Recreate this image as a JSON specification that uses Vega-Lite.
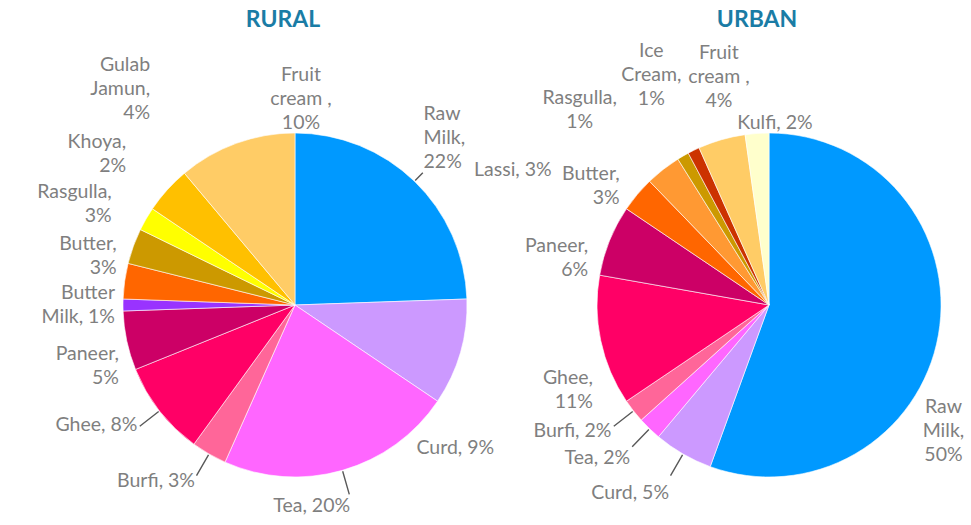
{
  "$schema": "https://vega.github.io/schema/vega-lite/v6.json",
  "autosize": "none",
  "width": 971,
  "height": 440,
  "padding": {"left": 0, "right": 0, "top": 85, "bottom": 0},
  "background": "white",
  "config": {"view": {"stroke": null}, "text": {"font": "Lato", "fontSize": 19.5, "color": "#7F7F7F", "lineBreak": "\n", "lineHeight": 24}},
  "data": {"values": [
    {"region": "RURAL", "i": 1, "name": "Raw Milk", "v": 22, "label": "Raw\nMilk,\n22%"},
    {"region": "RURAL", "i": 2, "name": "Curd", "v": 9, "label": "Curd, 9%"},
    {"region": "RURAL", "i": 3, "name": "Tea", "v": 20, "label": "Tea, 20%"},
    {"region": "RURAL", "i": 4, "name": "Burfi", "v": 3, "label": "Burfi, 3%"},
    {"region": "RURAL", "i": 5, "name": "Ghee", "v": 8, "label": "Ghee, 8%"},
    {"region": "RURAL", "i": 6, "name": "Paneer", "v": 5, "label": "Paneer,\n5%"},
    {"region": "RURAL", "i": 7, "name": "Butter Milk", "v": 1, "label": "Butter\nMilk, 1%"},
    {"region": "RURAL", "i": 8, "name": "Butter", "v": 3, "label": "Butter,\n3%"},
    {"region": "RURAL", "i": 9, "name": "Rasgulla", "v": 3, "label": "Rasgulla,\n3%"},
    {"region": "RURAL", "i": 10, "name": "Khoya", "v": 2, "label": "Khoya,\n2%"},
    {"region": "RURAL", "i": 11, "name": "Gulab Jamun", "v": 4, "label": "Gulab\nJamun,\n4%"},
    {"region": "RURAL", "i": 12, "name": "Fruit cream", "v": 10, "label": "Fruit\ncream ,\n10%"},
    {"region": "URBAN", "i": 1, "name": "Raw Milk", "v": 50, "label": "Raw\nMilk,\n50%"},
    {"region": "URBAN", "i": 2, "name": "Curd", "v": 5, "label": "Curd, 5%"},
    {"region": "URBAN", "i": 3, "name": "Tea", "v": 2, "label": "Tea, 2%"},
    {"region": "URBAN", "i": 4, "name": "Burfi", "v": 2, "label": "Burfi, 2%"},
    {"region": "URBAN", "i": 5, "name": "Ghee", "v": 11, "label": "Ghee,\n11%"},
    {"region": "URBAN", "i": 6, "name": "Paneer", "v": 6, "label": "Paneer,\n6%"},
    {"region": "URBAN", "i": 7, "name": "Butter", "v": 3, "label": "Butter,\n3%"},
    {"region": "URBAN", "i": 8, "name": "Lassi", "v": 3, "label": "Lassi, 3%"},
    {"region": "URBAN", "i": 9, "name": "Rasgulla", "v": 1, "label": "Rasgulla,\n1%"},
    {"region": "URBAN", "i": 10, "name": "Ice Cream", "v": 1, "label": "Ice\nCream,\n1%"},
    {"region": "URBAN", "i": 11, "name": "Fruit cream", "v": 4, "label": "Fruit\ncream ,\n4%"},
    {"region": "URBAN", "i": 12, "name": "Kulfi", "v": 2, "label": "Kulfi, 2%"}
  ]},
  "transform": [
    {"stack": "v", "groupby": ["region"], "sort": [{"field": "i", "order": "ascending"}], "as": ["s0", "s1"]},
    {"fold": ["s0", "s1"], "as": ["edge", "t"]},
    {"aggregate": [
      {"op": "min", "field": "t", "as": "start"},
      {"op": "max", "field": "t", "as": "end"},
      {"op": "mean", "field": "t", "as": "mid"}
    ], "groupby": ["region", "i", "name", "v", "label"]}
  ],
  "encoding": {
    "x": {"field": "region", "type": "nominal", "axis": null, "scale": {"type": "point", "padding": 0.5242, "align": 0.5936}}
  },
  "layer": [
    {
      "mark": {"type": "arc", "radius": 172, "stroke": "white", "strokeWidth": 0.6},
      "encoding": {
        "theta": {"field": "start", "type": "quantitative", "scale": {"domain": [0, 90]}},
        "theta2": {"field": "end"},
        "color": {"field": "name", "type": "nominal", "legend": null,
          "scale": {
            "domain": ["Raw Milk", "Curd", "Tea", "Burfi", "Ghee", "Paneer", "Butter Milk", "Butter", "Rasgulla", "Khoya", "Gulab Jamun", "Fruit cream", "Lassi", "Ice Cream", "Kulfi"],
            "range": ["#0099FF", "#CC99FF", "#FF66FF", "#FF6699", "#FF0066", "#CC0066", "#9933FF", "#FF6600", "#CC9900", "#FFFF00", "#FFC000", "#FFCC66", "#FF9933", "#CC3300", "#FFFFCC"]
          }}
      }
    },
    {
      "transform": [{"filter": "datum.mid < 20"}],
      "mark": {"type": "arc", "radius": 184, "radius2": 173, "fill": null, "filled": false, "stroke": "#595959", "strokeWidth": 1.4},
      "encoding": {
        "theta": {"field": "mid", "type": "quantitative", "scale": {"domain": [0, 90]}},
        "theta2": {"field": "mid"}
      }
    },
    {
      "transform": [{"filter": "datum.mid >= 35 && datum.mid < 61.25"}],
      "mark": {"type": "arc", "radius": 197, "radius2": 173, "fill": null, "filled": false, "stroke": "#595959", "strokeWidth": 1.4},
      "encoding": {
        "theta": {"field": "mid", "type": "quantitative", "scale": {"domain": [0, 90]}},
        "theta2": {"field": "mid"}
      }
    },
    {
      "transform": [{"aggregate": [{"op": "count", "as": "n"}], "groupby": ["region"]}],
      "mark": {"type": "text", "radius": 285, "theta": 0, "dx": -12, "fontSize": 23, "fontWeight": "bold", "color": "#1A7CA5", "baseline": "middle", "align": "center"},
      "encoding": {"text": {"field": "region"}}
    },
    {
      "transform": [{"filter": "datum.mid < 20 && lastindexof(datum.label, '\\n') > indexof(datum.label, '\\n')"}],
      "mark": {"type": "text", "radius": 185, "align": "left", "baseline": "bottom", "dy": -48},
      "encoding": {"theta": {"field": "mid", "type": "quantitative", "scale": {"domain": [0, 90]}}, "text": {"field": "label"}}
    },
    {
      "transform": [{"filter": "datum.mid >= 20 && datum.mid < 35 && indexof(datum.label, '\\n') < 0"}],
      "mark": {"type": "text", "radius": 215, "thetaOffset": 0.45, "align": "center", "baseline": "middle"},
      "encoding": {"theta": {"field": "mid", "type": "quantitative", "scale": {"domain": [0, 90]}}, "text": {"field": "label"}}
    },
    {
      "transform": [{"filter": "datum.mid >= 20 && datum.mid < 35 && lastindexof(datum.label, '\\n') > indexof(datum.label, '\\n')"}],
      "mark": {"type": "text", "radius": 215, "thetaOffset": 0.45, "align": "center", "baseline": "middle", "dy": -24},
      "encoding": {"theta": {"field": "mid", "type": "quantitative", "scale": {"domain": [0, 90]}}, "text": {"field": "label"}}
    },
    {
      "transform": [{"filter": "datum.mid >= 35 && datum.mid < 61.25"}],
      "mark": {"type": "text", "radius": 200, "align": "right", "baseline": "top"},
      "encoding": {
        "theta": {"field": "mid", "type": "quantitative", "scale": {"domain": [0, 90]}},
        "y": {"field": "i", "type": "quantitative", "axis": null, "scale": {"domain": [2, 5], "range": [226, 208], "zero": false, "nice": false}},
        "text": {"field": "label"}
      }
    },
    {
      "transform": [{"filter": "datum.mid >= 61.25 && datum.mid < 71.25"}],
      "mark": {"type": "text", "radius": 180, "align": "right", "baseline": "middle", "dy": -12},
      "encoding": {
        "theta": {"field": "mid", "type": "quantitative", "scale": {"domain": [0, 90]}},
        "y": {"field": "i", "type": "quantitative", "axis": null, "scale": {"domain": [5, 8], "range": [268, 196], "zero": false, "nice": false}},
        "text": {"field": "label"}
      }
    },
    {
      "transform": [{"filter": "datum.mid >= 71.25 && datum.mid < 79 && indexof(datum.label, '\\n') >= 0 && lastindexof(datum.label, '\\n') == indexof(datum.label, '\\n')"}],
      "mark": {"type": "text", "radius": 195, "align": "right", "baseline": "bottom", "dy": -24},
      "encoding": {
        "theta": {"field": "mid", "type": "quantitative", "scale": {"domain": [0, 90]}},
        "y": {"field": "i", "type": "quantitative", "axis": null, "scale": {"domain": [6, 11], "range": [268, 168], "zero": false, "nice": false}},
        "text": {"field": "label"}
      }
    },
    {
      "transform": [{"filter": "datum.mid >= 71.25 && datum.mid < 79 && lastindexof(datum.label, '\\n') > indexof(datum.label, '\\n')"}],
      "mark": {"type": "text", "radius": 195, "align": "right", "baseline": "bottom", "dy": -48},
      "encoding": {
        "theta": {"field": "mid", "type": "quantitative", "scale": {"domain": [0, 90]}},
        "y": {"field": "i", "type": "quantitative", "axis": null, "scale": {"domain": [6, 11], "range": [268, 168], "zero": false, "nice": false}},
        "text": {"field": "label"}
      }
    },
    {
      "transform": [{"filter": "datum.mid >= 79 && indexof(datum.label, '\\n') < 0"}],
      "mark": {"type": "text", "align": "center", "baseline": "bottom"},
      "encoding": {
        "theta": {"field": "i", "type": "quantitative", "scale": {"type": "linear", "domain": [8, 12], "range": [5.166, 6.318], "zero": false}},
        "radius": {"field": "i", "type": "quantitative", "scale": {"type": "linear", "domain": [8, 12], "range": [285, 172], "zero": false}},
        "text": {"field": "label"}
      }
    },
    {
      "transform": [{"filter": "datum.mid >= 79 && indexof(datum.label, '\\n') >= 0 && lastindexof(datum.label, '\\n') == indexof(datum.label, '\\n')"}],
      "mark": {"type": "text", "align": "center", "baseline": "bottom", "dy": -24},
      "encoding": {
        "theta": {"field": "i", "type": "quantitative", "scale": {"type": "linear", "domain": [8, 12], "range": [5.166, 6.318], "zero": false}},
        "radius": {"field": "i", "type": "quantitative", "scale": {"type": "linear", "domain": [8, 12], "range": [285, 172], "zero": false}},
        "text": {"field": "label"}
      }
    },
    {
      "transform": [{"filter": "datum.mid >= 79 && lastindexof(datum.label, '\\n') > indexof(datum.label, '\\n')"}],
      "mark": {"type": "text", "align": "center", "baseline": "bottom", "dy": -48},
      "encoding": {
        "theta": {"field": "i", "type": "quantitative", "scale": {"type": "linear", "domain": [8, 12], "range": [5.166, 6.318], "zero": false}},
        "radius": {"field": "i", "type": "quantitative", "scale": {"type": "linear", "domain": [8, 12], "range": [285, 172], "zero": false}},
        "text": {"field": "label"}
      }
    }
  ],
  "resolve": {"scale": {"theta": "independent", "radius": "independent", "y": "independent"}}
}
